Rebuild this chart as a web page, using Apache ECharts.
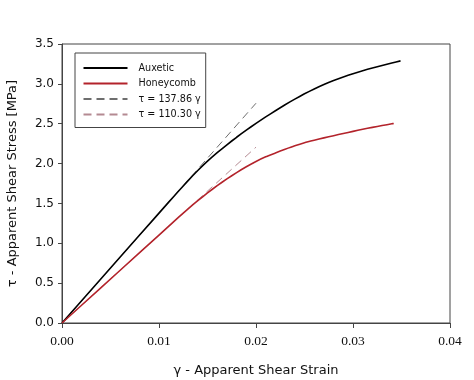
<!DOCTYPE html>
<html><head><meta charset="utf-8">
<script src="https://cdn.jsdelivr.net/npm/echarts@6/dist/echarts.min.js"></script>
<style>html,body{margin:0;padding:0;background:#fff}#c{width:474px;height:380px}</style>
</head><body><div id="c"></div>
<script>
var xTicks = [0, 0.01, 0.02, 0.03, 0.04];
var yTicks = [0, 0.5, 1.0, 1.5, 2.0, 2.5, 3.0, 3.5];
var seriesNames = ['Auxetic', 'Honeycomb', 'τ = 137.86 γ', 'τ = 110.30 γ'];
var auxeticStrain = [0, 0.004, 0.008, 0.011, 0.012, 0.013, 0.014, 0.015, 0.016, 0.017, 0.018, 0.019, 0.020, 0.021, 0.022, 0.023, 0.024, 0.025, 0.026, 0.027, 0.028, 0.029, 0.030, 0.031, 0.032, 0.033, 0.034, 0.0349];
var auxeticStress = [0, 0.551, 1.103, 1.516, 1.652, 1.786, 1.913, 2.030, 2.137, 2.236, 2.330, 2.419, 2.504, 2.585, 2.663, 2.738, 2.809, 2.875, 2.936, 2.992, 3.042, 3.087, 3.128, 3.165, 3.199, 3.231, 3.262, 3.288];
var honeyStrain = [0, 0.004, 0.008, 0.012, 0.013, 0.014, 0.015, 0.016, 0.017, 0.018, 0.019, 0.020, 0.021, 0.022, 0.023, 0.024, 0.025, 0.026, 0.027, 0.028, 0.029, 0.030, 0.031, 0.032, 0.033, 0.034, 0.0342];
var honeyStress = [0, 0.441, 0.882, 1.324, 1.432, 1.535, 1.632, 1.723, 1.808, 1.887, 1.960, 2.027, 2.085, 2.133, 2.180, 2.224, 2.262, 2.293, 2.322, 2.350, 2.377, 2.404, 2.430, 2.454, 2.477, 2.499, 2.503];
var fitStrain = [0, 0.02];
var fitAuxetic = [0, 2.757];
var fitHoney = [0, 2.206];

function pairs(xs, ys) { return xs.map(function (x, i) { return [x, ys[i]]; }); }

var chart = echarts.init(document.getElementById('c'), null, {renderer: 'canvas'});
chart.setOption({
  animation: false,
  backgroundColor: '#fff',
  grid: {left: 62, right: 24, top: 44, bottom: 57, show: true, borderColor: '#444', borderWidth: 1,
    containLabel: false, outerBoundsMode: 'none'},
  legend: {
    orient: 'vertical', left: 75, top: 53,
    data: seriesNames,
    itemWidth: 44, itemHeight: 12, itemGap: 5.5,
    padding: [10, 5, 8, 7.5],
    borderColor: '#444', borderWidth: 1, backgroundColor: '#fff',
    itemStyle: {opacity: 0},
    textStyle: {fontFamily: 'DejaVu Sans', fontSize: 9.6, color: '#111', padding: [0, 0, 0, 6]},
    selectedMode: false
  },
  xAxis: {
    type: 'value', min: 0, max: 0.04, interval: 0.01,
    name: 'γ - Apparent Shear Strain', nameLocation: 'middle', nameGap: 41,
    nameTextStyle: {fontFamily: 'DejaVu Sans', fontSize: 13, color: '#111'},
    axisLine: {lineStyle: {color: '#444', width: 1}},
    axisTick: {inside: false, length: 5, lineStyle: {color: '#444'}},
    axisLabel: {fontFamily: 'Liberation Serif', fontSize: 13.5, color: '#111', margin: 11,
      formatter: function (v) { return v.toFixed(2); }},
    splitLine: {show: false}
  },
  yAxis: {
    type: 'value', min: 0, max: 3.5, interval: 0.5,
    name: 'τ - Apparent Shear Stress [MPa]', nameLocation: 'middle', nameGap: 43,
    nameTextStyle: {fontFamily: 'DejaVu Sans', fontSize: 13, color: '#111'},
    axisLine: {show: true, lineStyle: {color: '#444', width: 1}},
    axisTick: {show: true, inside: false, length: 4, lineStyle: {color: '#444'}},
    axisLabel: {fontFamily: 'DejaVu Sans', fontSize: 12, color: '#111', margin: 8,
      formatter: function (v) { return v.toFixed(1); }},
    splitLine: {show: false}
  },
  series: [
    {name: seriesNames[2], type: 'line', data: pairs(fitStrain, fitAuxetic), symbol: 'none', z: 1,
      lineStyle: {color: '#6e6e6e', width: 1, type: [8, 5]}, itemStyle: {color: '#6e6e6e'}},
    {name: seriesNames[3], type: 'line', data: pairs(fitStrain, fitHoney), symbol: 'none', z: 1,
      lineStyle: {color: '#b48a92', width: 1, type: [8, 5]}, itemStyle: {color: '#b48a92'}},
    {name: seriesNames[0], type: 'line', data: pairs(auxeticStrain, auxeticStress), symbol: 'none', smooth: 0.15, z: 3,
      lineStyle: {color: '#000', width: 1.6}, itemStyle: {color: '#000'}},
    {name: seriesNames[1], type: 'line', data: pairs(honeyStrain, honeyStress), symbol: 'none', smooth: 0.15, z: 3,
      lineStyle: {color: '#b3232b', width: 1.6}, itemStyle: {color: '#b3232b'}}
  ]
});
</script></body></html>
